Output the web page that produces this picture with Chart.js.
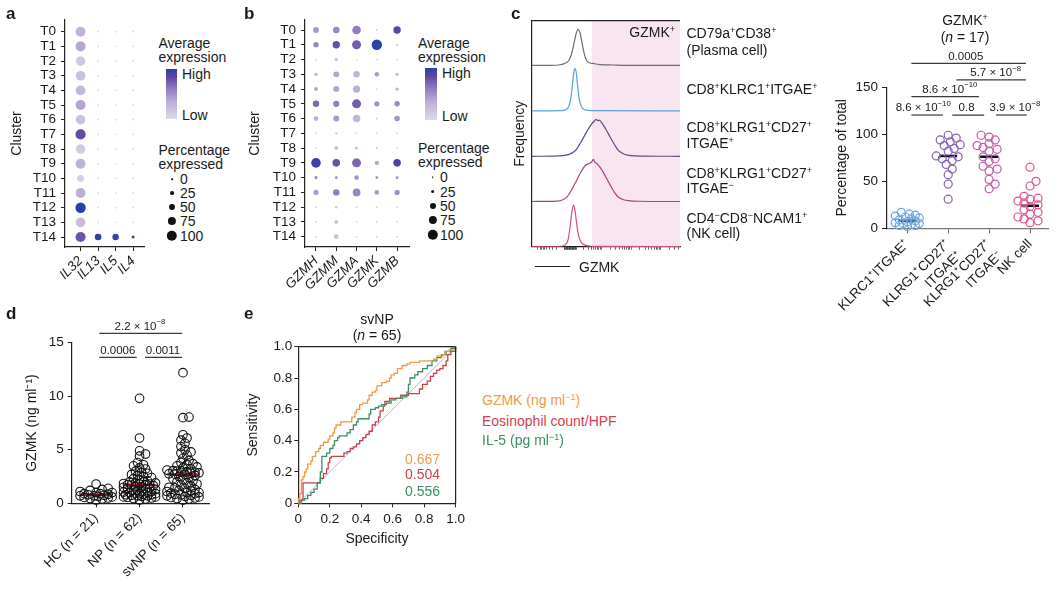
<!DOCTYPE html>
<html>
<head>
<meta charset="utf-8">
<title>GZMK figure</title>
<script src="https://cdn.jsdelivr.net/npm/chart.js@4.4.1/dist/chart.umd.min.js"></script>
<style>
  html, body { margin:0; padding:0; background:#fff; }
  body { width:1061px; height:590px; position:relative; overflow:hidden;
         font-family:"Liberation Sans", Arial, Helvetica, sans-serif; color:#1a1a1a; }
  .cw { position:absolute; }
  .t { position:absolute; white-space:nowrap; font-size:14px; line-height:16px; }
  .t sup { font-size:0.64em; position:relative; top:-0.55em; vertical-align:baseline; line-height:0; }
  .dot { position:absolute; border-radius:50%; background:#111; transform:translate(-50%,-50%); }
  .cbar { position:absolute; }
  .seg { position:absolute; height:0; border-top:1.3px solid #222; }
</style>
</head>
<body>
<script>
// ================= DATA =================
const clusters = ['T0','T1','T2','T3','T4','T5','T6','T7','T8','T9','T10','T11','T12','T13','T14'];

// panel a : percentage expressed / average expression (0-1)
const genesA   = ['IL32','IL13','IL5','IL4'];
const il32Pct  = [94,95,90,92,93,95,90,98,90,94,61,94,100,92,97];
const il32Expr = [0.30,0.38,0.14,0.20,0.27,0.40,0.20,0.82,0.12,0.33,0.10,0.35,1.00,0.25,0.78];
const il13Pct  = [2,2,2,2,2,2,2,2,2,2,2,2,2,2,57];
const il13Expr = [0.05,0.05,0.05,0.05,0.05,0.05,0.05,0.05,0.05,0.05,0.05,0.05,0.05,0.05,1.00];
const il5Pct   = [2,2,2,2,2,2,2,2,2,2,2,2,2,2,55];
const il5Expr  = [0.05,0.05,0.05,0.05,0.05,0.05,0.05,0.05,0.05,0.05,0.05,0.05,0.05,0.05,0.97];
const il4Pct   = [2,2,2,2,2,2,2,2,2,2,2,2,2,2,16];
const il4Expr  = [0.05,0.05,0.05,0.05,0.05,0.05,0.05,0.05,0.05,0.05,0.05,0.05,0.05,0.05,0.92];

// panel b
const genesB   = ['GZMH','GZMM','GZMA','GZMK','GZMB'];
const gzmhPct  = [50,43,2,18,27,55,36,2,2,91,16,41,2,2,2];
const gzmhExpr = [0.45,0.55,0.1,0.35,0.4,0.7,0.35,0.1,0.1,0.95,0.55,0.45,0.1,0.1,0.1];
const gzmmPct  = [57,66,20,48,50,52,50,9,27,68,16,55,11,27,34];
const gzmmExpr = [0.55,0.8,0.2,0.4,0.4,0.6,0.45,0.15,0.2,0.8,0.45,0.6,0.15,0.2,0.2];
const gzmaPct  = [80,84,2,55,64,84,68,2,20,84,34,70,2,2,2];
const gzmaExpr = [0.6,0.75,0.1,0.3,0.35,0.75,0.3,0.1,0.2,0.7,0.5,0.55,0.1,0.1,0.1];
const gzmkPct  = [5,100,2,34,2,41,5,2,5,32,14,34,2,2,2];
const gzmkExpr = [0.1,1.0,0.1,0.45,0.1,0.5,0.1,0.1,0.2,0.4,0.5,0.45,0.1,0.1,0.1];
const gzmbPct  = [66,7,2,16,18,43,45,2,2,68,16,41,2,2,2];
const gzmbExpr = [0.85,0.2,0.1,0.3,0.35,0.55,0.5,0.1,0.1,0.9,0.45,0.5,0.1,0.1,0.1];
const pctLegend = [0,25,50,75,100];

// panel c : GZMK histograms (x = GZMK axis 0-100, y = fraction of lane height)
const plasmaX  = [0,10,18,22,25,27,28.5,30,31.2,32.5,34,35.5,37,39,42,46,55,70,100];
const plasmaY  = [0.01,0.01,0.02,0.05,0.12,0.28,0.5,0.72,0.81,0.74,0.5,0.26,0.12,0.07,0.05,0.03,0.02,0.01,0.01];
const klrc1X   = [0,20,23,25,26.5,27.5,28.4,29.2,30,31,32,33.5,35,38,45,100];
const klrc1Y   = [0.005,0.01,0.03,0.1,0.3,0.6,0.85,0.94,0.86,0.55,0.28,0.1,0.04,0.015,0.01,0.005];
const itgaePosX = [0,18,24,27,30,33,36,38.5,40.5,42,43.4,44.5,45.5,47,48.5,50,52,54,56,58,60,63,67,75,100];
const itgaePosY = [0,0.01,0.03,0.07,0.15,0.3,0.48,0.62,0.72,0.77,0.82,0.79,0.8,0.75,0.68,0.6,0.48,0.36,0.25,0.15,0.09,0.04,0.015,0.005,0];
const itgaeNegX = [0,17,21,24,27,30,33,35,37,39,40.5,41.6,42.5,44,46,48,50,52,54,56,58,61,65,72,100];
const itgaeNegY = [0,0.01,0.04,0.11,0.26,0.45,0.64,0.75,0.82,0.84,0.88,0.93,0.87,0.84,0.76,0.66,0.54,0.42,0.3,0.19,0.11,0.05,0.02,0.005,0];
const nkHistX  = [0,20,22.5,24.5,25.8,27,28.1,29,30,31,32.5,34,36.5,40,50,100];
const nkHistY  = [0,0.01,0.04,0.15,0.42,0.75,0.92,0.84,0.6,0.35,0.15,0.07,0.03,0.01,0.005,0];
const gzmkGate = 40.5;

// panel c : percentage of total (n = 17)
const catC    = ['KLRC1\u207AITGAE\u207A', ['KLRG1\u207ACD27\u207A','ITGAE\u207A'], ['KLRG1\u207ACD27\u207A','ITGAE\u207B'], 'NK cell'];
const klrc1Pct = [17,15,14,13,12,11,10,9,8,7,6,5,5,4,3,3,2];
const klrgPosPct = [99,96,94,92,89,88,85,82,77,76,74,72,68,63,57,47,31];
const klrgNegPct = [99,97,94,90,88,86,84,82,76,74,71,66,63,61,52,47,42];
const nkPct    = [65,50,45,34,32,31,29,27,25,23,20,17,15,12,10,8,6];
const medC     = [8,77,76,24];
const sigCFrom  = [0.1,1.2,0.1,0.1,1.1,2.17];
const sigCTo    = [2.9,2.9,1.75,0.87,1.88,2.92];
const sigCLevel = [175.5,157.8,140,120.5,120.5,120.5];
const sigCTextX = [1.43,2.16,1.04,0.39,1.45,2.63];
const sigCLabel = ['0.0005','5.7 \u00D7 10^{\u22128}','8.6 \u00D7 10^{\u221210}','8.6 \u00D7 10^{\u221210}','0.8','3.9 \u00D7 10^{\u22128}'];

// panel d : GZMK (ng/ml)
const catD  = ['HC (n = 21)','NP (n = 62)','svNP (n = 65)'];
const hcVals = [1.8,1.4,1.3,1.2,1.1,1.0,1.0,0.9,0.9,0.85,0.8,0.75,0.7,0.7,0.65,0.6,0.55,0.5,0.45,0.4,0.3];
const npVals = [9.8,6.1,4.9,4.6,4.4,3.8,3.6,3.5,3.3,3.2,
                3.0,2.9,2.8,2.7,2.6,2.5,2.4,2.3,2.2,2.1,
                2.0,2.0,1.9,1.9,1.85,1.8,1.8,1.75,1.72,1.7,
                1.65,1.6,1.55,1.5,1.45,1.4,1.35,1.3,1.25,1.2,
                1.15,1.1,1.05,1.0,1.0,0.95,0.9,0.9,0.85,0.8,
                0.8,0.75,0.7,0.7,0.65,0.6,0.6,0.55,0.5,0.45,
                0.4,0.3];
const svnpVals = [12.2,8.05,8.0,6.4,6.1,5.9,5.6,5.3,5.0,4.8,
                  4.7,4.5,4.2,4.0,3.8,3.6,3.5,3.4,3.3,3.2,
                  3.1,3.0,2.95,2.9,2.85,2.8,2.75,2.72,2.7,2.6,
                  2.5,2.4,2.3,2.2,2.1,2.0,1.9,1.8,1.7,1.6,
                  1.5,1.45,1.4,1.3,1.2,1.15,1.1,1.0,1.0,0.95,
                  0.9,0.85,0.8,0.75,0.7,0.65,0.6,0.55,0.5,0.45,
                  0.4,2.9,0.3,3.7,3.05];
const medD = [0.8,1.7,2.7];
const sigDFrom  = [0.074,0.074,1.124];
const sigDTo    = [1.984,0.935,1.984];
const sigDLevel = [15.87,13.63,13.63];
const sigDTextX = [1.01,0.5,1.54];
const sigDLabel = ['2.2 \u00D7 10^{\u22128}','0.0006','0.0011'];

// panel e : ROC curves (svNP, n = 65)
const rocTicks = [0,0.2,0.4,0.6,0.8,1.0];
const rocTickLabels = ['0','0.2','0.4','0.6','0.8','1.0'];
const gzmkFpr = [0,0,0.01,0.02,0.02,0.03,0.04,0.05,0.06,0.08,0.09,0.11,0.13,0.14,0.16,0.19,0.2,0.22,0.23,0.24,0.27,0.33,0.34,0.36,0.37,0.39,0.41,0.44,0.45,0.47,0.49,0.5,0.53,0.56,0.58,0.59,0.61,0.63,0.66,0.69,0.71,0.77,0.86,0.88,0.92,0.93,0.96,1];
const gzmkTpr = [0,0.03,0.06,0.06,0.15,0.17,0.2,0.22,0.25,0.27,0.3,0.33,0.35,0.37,0.39,0.41,0.43,0.45,0.48,0.5,0.52,0.52,0.55,0.58,0.6,0.63,0.64,0.66,0.69,0.71,0.72,0.75,0.77,0.78,0.8,0.82,0.83,0.86,0.88,0.89,0.9,0.91,0.92,0.94,0.95,0.97,0.98,1];
const eosFpr = [0,0.01,0.03,0.03,0.13,0.14,0.16,0.18,0.19,0.2,0.21,0.27,0.29,0.31,0.33,0.35,0.37,0.39,0.41,0.43,0.45,0.47,0.49,0.51,0.52,0.54,0.55,0.58,0.63,0.65,0.7,0.75,0.77,0.79,0.82,0.84,0.86,0.88,0.9,0.92,0.94,0.95,0.97,1];
const eosTpr = [0,0.02,0.03,0.13,0.13,0.16,0.19,0.22,0.26,0.29,0.3,0.3,0.32,0.33,0.35,0.36,0.38,0.4,0.42,0.44,0.46,0.5,0.52,0.55,0.59,0.62,0.65,0.67,0.67,0.69,0.7,0.7,0.73,0.76,0.78,0.81,0.83,0.85,0.86,0.88,0.91,0.95,0.97,1];
const il5Fpr = [0,0.02,0.04,0.06,0.08,0.1,0.12,0.14,0.15,0.15,0.18,0.2,0.22,0.23,0.25,0.26,0.3,0.31,0.33,0.35,0.37,0.38,0.44,0.45,0.46,0.49,0.51,0.53,0.56,0.59,0.62,0.66,0.69,0.7,0.71,0.74,0.76,0.79,0.82,0.85,0.88,0.91,0.94,0.97,1];
const il5Tpr = [0,0.02,0.03,0.05,0.07,0.09,0.13,0.2,0.26,0.3,0.32,0.35,0.37,0.4,0.42,0.43,0.43,0.45,0.47,0.5,0.52,0.54,0.54,0.57,0.6,0.61,0.62,0.63,0.64,0.66,0.67,0.68,0.71,0.76,0.8,0.82,0.84,0.86,0.88,0.91,0.93,0.95,0.97,0.99,1];
const aucVals = ['0.667','0.504','0.556'];
const rocNames = ['GZMK (ng ml<sup>\u22121</sup>)','Eosinophil count/HPF','IL-5 (pg ml<sup>\u22121</sup>)'];

// ================= STYLE HELPERS =================
const AX = '#222';
const FONT = '"Liberation Sans", Arial, Helvetica, sans-serif';
Chart.defaults.font.family = FONT;
Chart.defaults.font.size = 13;
Chart.defaults.color = '#1a1a1a';
Chart.defaults.animation = false;
Chart.defaults.events = [];
Chart.defaults.plugins.legend.display = false;
Chart.defaults.plugins.tooltip.enabled = false;

const cmapStops = [[0,[221,218,233]],[0.35,[189,174,214]],[0.65,[138,113,188]],[0.85,[92,68,160]],[1,[42,66,168]]];
function colOf(e){
  e = Math.max(0, Math.min(1, e));
  for (let i = 1; i < cmapStops.length; i++){
    if (e <= cmapStops[i][0]){
      const t = (e - cmapStops[i-1][0]) / (cmapStops[i][0] - cmapStops[i-1][0]);
      const a = cmapStops[i-1][1], b = cmapStops[i][1];
      return 'rgb(' + a.map((v,k)=>Math.round(v + (b[k]-v)*t)).join(',') + ')';
    }
  }
  return 'rgb(' + cmapStops[cmapStops.length-1][1].join(',') + ')';
}
function rOf(p){ return 0.8 + 4.4 * p / 100; }

function mkCanvas(left, top, w, h){
  const d = document.createElement('div');
  d.className = 'cw';
  Object.assign(d.style, {left:left+'px', top:top+'px', width:w+'px', height:h+'px'});
  const c = document.createElement('canvas');
  d.appendChild(c); document.body.appendChild(d);
  return c;
}
function gridT(len, color){ return {display:true, drawOnChartArea:false, drawTicks:true, tickLength:len, color:color||AX, lineWidth:1}; }
function bord(color){ return {display:true, color:color||AX, width:1.2}; }

function richSegs(str){
  const segs = []; const re = /\^\{([^}]*)\}/g; let last = 0, m;
  while ((m = re.exec(str))){
    if (m.index > last) segs.push({t:str.slice(last, m.index), sup:false});
    segs.push({t:m[1], sup:true}); last = re.lastIndex;
  }
  if (last < str.length) segs.push({t:str.slice(last), sup:false});
  return segs;
}
function drawRich(ctx, str, cx, cy, size){
  const segs = richSegs(str);
  const fb = size + 'px ' + FONT, fs = (size*0.68).toFixed(1) + 'px ' + FONT;
  let w = 0;
  segs.forEach(s => { ctx.font = s.sup ? fs : fb; s.w = ctx.measureText(s.t).width; w += s.w; });
  let x = cx - w/2;
  ctx.textAlign = 'left'; ctx.textBaseline = 'middle';
  segs.forEach(s => { ctx.font = s.sup ? fs : fb; ctx.fillText(s.t, x, s.sup ? cy - size*0.4 : cy); x += s.w; });
}
function sigPlugin(from, to, level, textX, labels){
  return { id:'sig', afterDraw(chart){
    const {ctx} = chart, xs = chart.scales.x, ys = chart.scales.y;
    ctx.save();
    for (let i = 0; i < from.length; i++){
      const x1 = xs.getPixelForValue(from[i]), x2 = xs.getPixelForValue(to[i]), y = ys.getPixelForValue(level[i]);
      ctx.strokeStyle = '#3a3a3a'; ctx.lineWidth = 1.2;
      ctx.beginPath(); ctx.moveTo(x1, y); ctx.lineTo(x2, y); ctx.stroke();
      ctx.fillStyle = '#1a1a1a';
      drawRich(ctx, labels[i], xs.getPixelForValue(textX[i]), y - 7, 11.5);
    }
    ctx.restore();
  }};
}
function framePlugin(sides){
  return { id:'frame', afterDatasetsDraw(chart){
    const {ctx, chartArea:a} = chart;
    ctx.save(); ctx.strokeStyle = AX; ctx.lineWidth = 1.2; ctx.beginPath();
    if (sides.includes('top')) { ctx.moveTo(a.left, a.top); ctx.lineTo(a.right, a.top); }
    if (sides.includes('right')) { ctx.moveTo(a.right, a.top); ctx.lineTo(a.right, a.bottom); }
    ctx.stroke(); ctx.restore();
  }};
}
function swarm(chart, vals, g, minDist, step, maxSteps){
  const xs = chart.scales.x, ys = chart.scales.y;
  const pxPerX = xs.getPixelForValue(g+1) - xs.getPixelForValue(g);
  const order = vals.map((v,i)=>i).sort((a,b)=>vals[a]-vals[b]);
  const placed = [], out = new Array(vals.length);
  for (const i of order){
    const py = ys.getPixelForValue(vals[i]);
    let best = 0, bestScore = -1;
    for (let k = 0; k <= 2*maxSteps; k++){
      const off = (k % 2 === 1 ? 1 : -1) * Math.ceil(k/2) * step;
      let dmin = Infinity;
      for (const p of placed){ const d = Math.hypot(p.x-off, p.y-py); if (d < dmin) dmin = d; }
      if (dmin >= minDist){ best = off; bestScore = Infinity; break; }
      if (dmin > bestScore){ bestScore = dmin; best = off; }
    }
    placed.push({x:best, y:py});
    out[i] = {x: g + best/pxPerX, y: vals[i]};
  }
  return out;
}

// ================= PANEL a / b : dot plots =================
function dotSets(genes, pcts, exprs){
  return genes.map((g, gi) => ({
    label: g,
    data: clusters.map((c, ci) => ({x: gi, y: ci})),
    pointRadius: pcts[gi].map(rOf),
    pointBackgroundColor: exprs[gi].map(colOf),
    pointBorderWidth: 0, clip: false
  }));
}
function dotChart(canvas, genes, pcts, exprs, xr, yr, padRight, titlePad){
  return new Chart(canvas, {
    type:'scatter',
    data:{datasets: dotSets(genes, pcts, exprs)},
    options:{
      responsive:true, maintainAspectRatio:false,
      layout:{padding:{left:0, right:padRight, top:20, bottom:0}},
      scales:{
        x:{type:'linear', min:xr[0], max:xr[1],
           afterBuildTicks:s=>{ s.ticks = genes.map((g,i)=>({value:i})); },
           afterFit:s=>{ s.height = 48; },
           ticks:{callback:v=>genes[v], minRotation:45, maxRotation:45, autoSkip:false, padding:2, font:{size:13.5, style:'italic'}},
           grid:gridT(4), border:bord()},
        y:{type:'linear', reverse:true, min:yr[0], max:yr[1],
           afterBuildTicks:s=>{ s.ticks = clusters.map((c,i)=>({value:i})); },
           afterFit:s=>{ s.width = 65; },
           ticks:{callback:v=>clusters[v], autoSkip:false, padding:5, font:{size:13.5}},
           grid:gridT(4), border:bord(),
           title:{display:true, text:'Cluster', font:{size:14}, padding:{top:titlePad, bottom:0}}}
      }
    }
  });
}
dotChart(mkCanvas(0,0,150,295), genesA, [il32Pct,il13Pct,il5Pct,il4Pct], [il32Expr,il13Expr,il5Expr,il4Expr],
         [-0.889, 3.667], [-0.8, 14.68], 3, 8.3);
dotChart(mkCanvas(240,0,175,295), genesB, [gzmhPct,gzmmPct,gzmaPct,gzmkPct,gzmbPct], [gzmhExpr,gzmmExpr,gzmaExpr,gzmkExpr,gzmbExpr],
         [-0.542, 4.626], [-0.678, 14.70], 5, 6.6);

// ================= PANEL c : histograms =================
function logicleTicks(){
  const t = [], zero = 26, lin = 4;
  for (let v = -90; v <= 90; v += 10) t.push(zero + lin*v/100);
  const pos = [30,47,67,87];
  for (let d = 0; d < 3; d++) for (let k = 1; k < 10; k++) t.push(pos[d] + (pos[d+1]-pos[d])*Math.log10(k));
  for (let k = 1; k <= 4; k++) t.push(87 + 20*Math.log10(k));
  for (let k = 1; k < 10; k++) t.push(22 - 17*Math.log10(k));
  t.push(5 - 17*Math.log10(1.2));
  return t.filter(v => v >= 0 && v <= 100);
}
const histTicks = logicleTicks();
function lane(xs, ys, laneIdx, color){
  return { data: xs.map((x,i)=>({x, y: laneIdx + ys[i]})), showLine:true, pointRadius:0,
           borderColor:color, borderWidth:1.2, cubicInterpolationMode:'monotone', fill:false };
}
new Chart(mkCanvas(505,0,180,260), {
  type:'scatter',
  data:{datasets:[
    lane(plasmaX, plasmaY, 4, '#6e6e6e'),
    lane(klrc1X, klrc1Y, 3, '#5c9fd8'),
    lane(itgaePosX, itgaePosY, 2, '#5f4b89'),
    lane(itgaeNegX, itgaeNegY, 1, '#ad3f7d'),
    lane(nkHistX, nkHistY, 0, '#db4a87'),
    { data:[{x:gzmkGate, y:5},{x:100, y:5}], showLine:true, pointRadius:0, borderWidth:0,
      borderColor:'rgba(0,0,0,0)', backgroundColor:'#f9e5ef', fill:'origin' }
  ]},
  options:{
    responsive:true, maintainAspectRatio:false,
    layout:{padding:{left:0, right:5, top:20.7, bottom:0}},
    scales:{
      x:{type:'linear', min:0, max:100,
         afterBuildTicks:s=>{ s.ticks = histTicks.map(v=>({value:v})); },
         afterFit:s=>{ s.height = 13.3; },
         ticks:{display:false}, grid:{display:true, drawOnChartArea:false, drawTicks:true, tickLength:3, color:'#444', lineWidth:0.8},
         border:bord()},
      y:{type:'linear', min:0, max:5, afterFit:s=>{ s.width = 26.7; },
         ticks:{display:false}, grid:{display:false}, border:bord(),
         title:{display:true, text:'Frequency', font:{size:14}, padding:{top:6.6, bottom:0}}}
    }
  },
  plugins:[framePlugin(['top'])]
});

// ================= PANEL c : percentage of total =================
const colC = ['#6aa5dc','#8462b4','#c35aa8','#e0508e'];
const groupsC = [klrc1Pct, klrgPosPct, klrgNegPct, nkPct];
const chartC = new Chart(mkCanvas(830,0,231,320), {
  type:'scatter',
  data:{datasets:[
    ...groupsC.map((vals, g) => ({ data: vals.map(v=>({x:g, y:v})), pointRadius:4, pointBorderWidth:1.2,
        pointBorderColor:colC[g], pointBackgroundColor:'rgba(255,255,255,0)', clip:false })),
    ...medC.map((m, g) => ({ data:[{x:g-0.22, y:m},{x:g+0.22, y:m}], showLine:true, pointRadius:0,
        borderColor:'#111', borderWidth:2.5 }))
  ]},
  options:{
    responsive:true, maintainAspectRatio:false,
    layout:{padding:{left:0, right:13, top:87.3, bottom:0}},
    scales:{
      x:{type:'linear', min:-0.496, max:3.44,
         afterBuildTicks:s=>{ s.ticks = catC.map((c,i)=>({value:i})); },
         afterFit:s=>{ s.height = 91.7; },
         ticks:{callback:v=>catC[v], minRotation:45, maxRotation:45, autoSkip:false, padding:3, font:{size:13.5}},
         grid:gridT(5, '#666'), border:bord('#777')},
      y:{type:'linear', min:0, max:150,
         afterBuildTicks:s=>{ s.ticks = [0,50,100,150].map(v=>({value:v})); },
         afterFit:s=>{ s.width = 57; },
         ticks:{padding:4, font:{size:13.5}},
         grid:gridT(5), border:bord(),
         title:{display:true, text:'Percentage of total', font:{size:14}, padding:{top:3.3, bottom:0}}}
    }
  },
  plugins:[sigPlugin(sigCFrom, sigCTo, sigCLevel, sigCTextX, sigCLabel)]
});
groupsC.forEach((vals, g) => { chartC.data.datasets[g].data = swarm(chartC, vals, g, 6.5, 2, 6); });
chartC.update('none');

// ================= PANEL d =================
const groupsD = [hcVals, npVals, svnpVals];
const chartD = new Chart(mkCanvas(0,300,215,290), {
  type:'scatter',
  data:{datasets:[
    ...groupsD.map((vals, g) => ({ data: vals.map(v=>({x:g, y:v})), pointRadius:4.3, pointBorderWidth:1.1,
        pointBorderColor:'#111', pointBackgroundColor:'rgba(255,255,255,0)', clip:false })),
    ...medD.map((m, g) => ({ data:[{x:g-0.36, y:m},{x:g+0.36, y:m}], showLine:true, pointRadius:0,
        borderColor:'#e0202c', borderWidth:2.5 }))
  ]},
  options:{
    responsive:true, maintainAspectRatio:false,
    layout:{padding:{left:0, right:2, top:42.7, bottom:0}},
    scales:{
      x:{type:'linear', min:-0.562, max:2.613,
         afterBuildTicks:s=>{ s.ticks = catD.map((c,i)=>({value:i})); },
         afterFit:s=>{ s.height = 86.7; },
         ticks:{callback:v=>catD[v], minRotation:45, maxRotation:45, autoSkip:false, padding:3, font:{size:13.5}},
         grid:gridT(4), border:bord()},
      y:{type:'linear', min:0, max:15,
         afterBuildTicks:s=>{ s.ticks = [0,5,10,15].map(v=>({value:v})); },
         afterFit:s=>{ s.width = 71.7; },
         ticks:{padding:4, font:{size:13.5}},
         grid:gridT(4), border:bord(),
         title:{display:true, text:'GZMK (ng ml\u207B\u00B9)', font:{size:14}, padding:{top:23.3, bottom:0}}}
    }
  },
  plugins:[sigPlugin(sigDFrom, sigDTo, sigDLevel, sigDTextX, sigDLabel)]
});
groupsD.forEach((vals, g) => { chartD.data.datasets[g].data = swarm(chartD, vals, g, 4.6, 2, 8); });
chartD.update('none');

// ================= PANEL e : ROC =================
const rocCol = ['#ee9a45','#cc3f4f','#3b8f62'];
function rocSet(fpr, tpr, color){
  return { data: fpr.map((x,i)=>({x, y:tpr[i]})), showLine:true, pointRadius:0, stepped:'before',
           borderColor:color, borderWidth:1.3, clip:false };
}
new Chart(mkCanvas(240,300,229,260), {
  type:'scatter',
  data:{datasets:[
    rocSet(gzmkFpr, gzmkTpr, rocCol[0]),
    rocSet(il5Fpr, il5Tpr, rocCol[2]),
    rocSet(eosFpr, eosTpr, rocCol[1]),
    { data:[{x:0,y:0},{x:1,y:1}], showLine:true, pointRadius:0, borderColor:'#b9b9b9', borderWidth:1 }
  ]},
  options:{
    responsive:true, maintainAspectRatio:false,
    layout:{padding:{left:0, right:13, top:46.7, bottom:0}},
    scales:{
      x:{type:'linear', min:0, max:1,
         afterBuildTicks:s=>{ s.ticks = rocTicks.map(v=>({value:v})); },
         afterFit:s=>{ s.height = 56.7; },
         ticks:{callback:(v,i)=>rocTickLabels[i], autoSkip:false, maxRotation:0, padding:4, font:{size:13.5}},
         grid:gridT(4), border:bord(),
         title:{display:true, text:'Specificity', font:{size:14}, padding:{top:0, bottom:12.3}}},
      y:{type:'linear', min:0, max:1,
         afterBuildTicks:s=>{ s.ticks = rocTicks.map(v=>({value:v})); },
         afterFit:s=>{ s.width = 58.3; },
         ticks:{callback:(v,i)=>rocTickLabels[i], autoSkip:false, padding:2, font:{size:13.5}},
         grid:gridT(4), border:bord(),
         title:{display:true, text:'Sensitivity', font:{size:14}, padding:{top:4.6, bottom:0}}}
    }
  },
  plugins:[framePlugin(['top','right'])]
});

// ================= TEXT / LEGENDS =================
function txt(html, x, y, o){
  o = o || {};
  const d = document.createElement('div');
  d.className = 't'; d.innerHTML = html;
  d.style.left = x + 'px'; d.style.top = y + 'px';
  const ax = o.align === 'center' ? '-50%' : (o.align === 'right' ? '-100%' : '0');
  d.style.transform = 'translate(' + ax + ',-50%)';
  if (o.size) d.style.fontSize = o.size + 'px';
  if (o.color) d.style.color = o.color;
  if (o.bold) d.style.fontWeight = 'bold';
  document.body.appendChild(d);
}
// panel letters
txt('a', 6, 14, {bold:true, size:17});
txt('b', 244, 14, {bold:true, size:17});
txt('c', 511, 14, {bold:true, size:17});
txt('d', 6, 314, {bold:true, size:17});
txt('e', 244, 314, {bold:true, size:17});

function dotLegend(x, yTitle, cb, dotX, dotYs, labX){
  txt('Average', x, yTitle); txt('expression', x, yTitle + 14);
  const bar = document.createElement('div'); bar.className = 'cbar';
  Object.assign(bar.style, {left:cb[0]+'px', top:cb[1]+'px', width:cb[2]+'px', height:cb[3]+'px',
    background:'linear-gradient(to top,' + cmapStops.map(s=>'rgb('+s[1].join(',')+') '+(s[0]*100)+'%').join(',') + ')'});
  document.body.appendChild(bar);
  txt('High', cb[0] + cb[2] + 5, cb[1] + 5);
  txt('Low', cb[0] + cb[2] + 5, cb[1] + cb[3] - 4);
  txt('Percentage', x, dotYs[0] - 29); txt('expressed', x, dotYs[0] - 15.5);
  pctLegend.forEach((p, i) => {
    const dd = document.createElement('div'); dd.className = 'dot';
    const r = rOf(p);
    Object.assign(dd.style, {left:dotX+'px', top:dotYs[i]+'px', width:(2*r)+'px', height:(2*r)+'px'});
    document.body.appendChild(dd);
    txt(String(p), labX, dotYs[i]);
  });
}
dotLegend(158.5, 43, [166,69,11,50], 172, [179,193.3,207.3,220.7,236], 180);
dotLegend(418, 43, [425,68,12,52], 432.5, [177,191.5,205.5,219.5,234.5], 440);

// panel c hist labels
txt('GZMK<sup>+</sup>', 675, 31.5, {align:'right'});
txt('CD79a<sup>+</sup>CD38<sup>+</sup>', 686.5, 33.3);
txt('(Plasma cell)', 686.5, 50);
txt('CD8<sup>+</sup>KLRC1<sup>+</sup>ITGAE<sup>+</sup>', 686.5, 89.3);
txt('CD8<sup>+</sup>KLRG1<sup>+</sup>CD27<sup>+</sup>', 686.5, 126.7);
txt('ITGAE<sup>+</sup>', 686.5, 143.3);
txt('CD8<sup>+</sup>KLRG1<sup>+</sup>CD27<sup>+</sup>', 686.5, 172.7);
txt('ITGAE<sup>\u2212</sup>', 686.5, 188.3);
txt('CD4<sup>\u2212</sup>CD8<sup>\u2212</sup>NCAM1<sup>+</sup>', 686.5, 218.3);
txt('(NK cell)', 686.5, 233.3);
const sg = document.createElement('div'); sg.className = 'seg';
Object.assign(sg.style, {left:'535px', top:'266px', width:'35px'}); document.body.appendChild(sg);
txt('GZMK', 579, 267);

// panel c scatter title
txt('GZMK<sup>+</sup>', 965, 19.5, {align:'center'});
txt('(<i>n</i> = 17)', 965, 36.5, {align:'center'});

// panel e titles / legend
txt('svNP', 377, 318.5, {align:'center'});
txt('(<i>n</i> = 65)', 377, 335, {align:'center'});
[459.3, 474.3, 490.7].forEach((y, i) => txt(aucVals[i], 440, y, {align:'right', color:rocCol[i]}));
[400, 420.5, 440].forEach((y, i) => txt(rocNames[i], 482, y, {color:rocCol[i]}));
</script>
</body>
</html>
